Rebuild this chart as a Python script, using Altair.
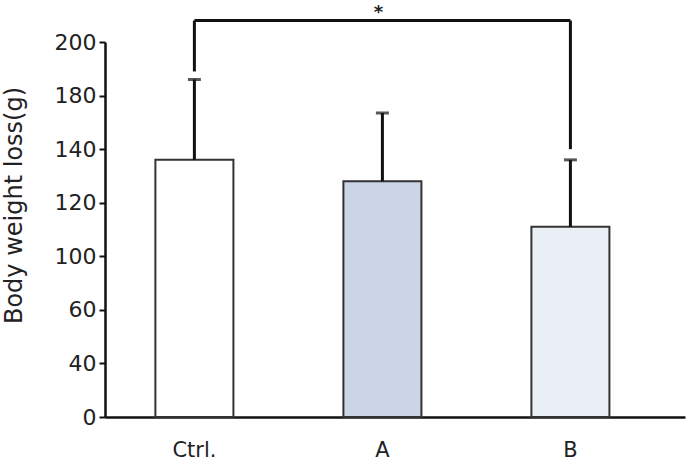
import altair as alt
import pandas as pd

# Group means and standard deviations (g)
groups = ["Ctrl.", "A", "B"]
means = [136, 128, 111]
sds = [50, 39, 25]
fills = ["#ffffff", "#cbd5e6", "#eaeef5"]

# Labelled y-axis ticks, drawn evenly spaced
tick_values = [0, 40, 60, 100, 120, 140, 180, 200]

# Significance bracket between Ctrl. and B
bracket_top = 208
bracket_left_end = 189
bracket_right_end = 140
sig_label = "*"

df = pd.DataFrame({
    "group": groups,
    "mean": means,
    "upper": [m + s for m, s in zip(means, sds)],
    "fill": fills,
})

PLOT_W = 580
PLOT_H = 417
AXIS_TOP = 42
step = (PLOT_H - AXIS_TOP) / (len(tick_values) - 1)
y_range = [PLOT_H - i * step for i in range(len(tick_values))]

x_scale = alt.Scale(domain=groups, paddingInner=0.585, paddingOuter=0.335, align=0.4)
y_scale = alt.Scale(domain=tick_values, range=y_range, nice=False, zero=False)

FONT = "DejaVu Sans"
INK = "#222222"

x_enc = alt.X(
    "group:N", scale=x_scale, sort=groups, title=None,
    axis=alt.Axis(labelAngle=0, ticks=False, labelPadding=22, labelFontSize=21,
                  labelColor=INK, labelFont=FONT, domainColor="#111111",
                  domainWidth=2.5),
)

bars = alt.Chart(df).mark_bar(stroke="#333333", strokeWidth=2).encode(
    x=x_enc,
    y=alt.Y("mean:Q", scale=y_scale, title="Body weight loss(g)",
            axis=alt.Axis(values=tick_values, grid=False, tickSize=6, tickWidth=2,
                          tickColor="#111111", domainColor="#111111", domainWidth=2.5,
                          labelFontSize=22, labelColor=INK, labelFont=FONT,
                          labelPadding=3, titleFont=FONT, titleFontSize=24,
                          titleFontWeight="normal", titleColor=INK,
                          titlePadding=28, titleY=205)),
    fill=alt.Fill("fill:N", scale=None),
)

err = alt.Chart(df).mark_rule(color="#111111", strokeWidth=3).encode(
    x=alt.X("group:N", scale=x_scale, sort=groups),
    y=alt.Y("mean:Q", scale=y_scale),
    y2="upper:Q",
)

caps = alt.Chart(df).mark_tick(color="#111111", thickness=3, size=13, orient="horizontal").encode(
    x=alt.X("group:N", scale=x_scale, sort=groups),
    y=alt.Y("upper:Q", scale=y_scale),
)

legs = pd.DataFrame({
    "group": [groups[0], groups[2]],
    "y0": [bracket_left_end, bracket_right_end],
    "y1": [bracket_top, bracket_top],
})
bracket_legs = alt.Chart(legs).mark_rule(color="#111111", strokeWidth=3).encode(
    x=alt.X("group:N", scale=x_scale, sort=groups),
    y=alt.Y("y0:Q", scale=y_scale),
    y2="y1:Q",
)

span = pd.DataFrame({"g0": [groups[0]], "g1": [groups[2]], "y": [bracket_top]})
bracket_span = alt.Chart(span).mark_rule(color="#111111", strokeWidth=3).encode(
    x=alt.X("g0:N", scale=x_scale, sort=groups),
    x2="g1:N",
    y=alt.Y("y:Q", scale=y_scale),
)

star = alt.Chart(pd.DataFrame({"group": [groups[1]], "y": [bracket_top], "t": [sig_label]})).mark_text(
    fontSize=18, font=FONT, fontWeight="bold", color=INK, baseline="alphabetic", dy=-3, dx=-4,
).encode(
    x=alt.X("group:N", scale=x_scale, sort=groups),
    y=alt.Y("y:Q", scale=y_scale),
    text="t:N",
)

chart = alt.layer(bars, err, caps, bracket_legs, bracket_span, star).properties(
    width=PLOT_W, height=PLOT_H,
    autosize=alt.AutoSizeParams(type="none"),
    padding={"left": 105, "top": 0, "right": 3, "bottom": 56},
    background="white",
).configure_view(stroke=None)

chart.save("out.html", embed_options={"renderer": "svg", "actions": False})
